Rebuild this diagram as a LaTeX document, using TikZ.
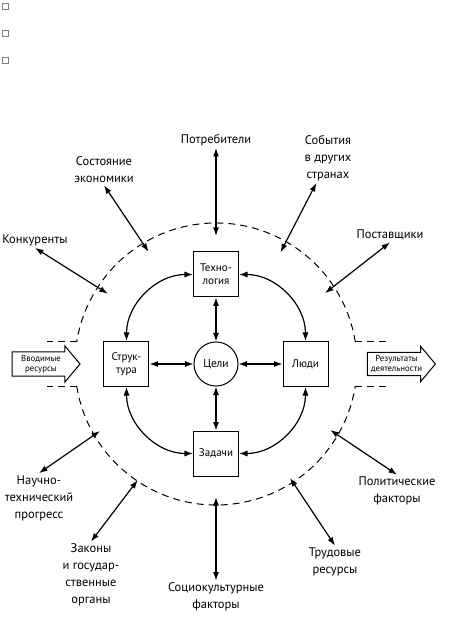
\documentclass[tikz,border=0pt]{standalone}
\usepackage{fontspec}
\setmainfont{PT Sans}
\usetikzlibrary{arrows.meta, positioning, shapes.arrows}
\tikzset{
  blockB/.style={rectangle, draw=black, line width=1pt, fill=white,
                 minimum size=45pt, inner sep=1pt, align=center,
                 font=\fontsize{11}{13}\selectfont},
  goalC/.style={circle, draw=black, line width=1pt, fill=white,
                minimum size=44pt, inner sep=0pt,
                font=\fontsize{11.5}{13}\selectfont},
  factorL/.style={align=center, inner sep=2pt,
                  font=\fontsize{12.5}{17}\selectfont},
  flowA/.style={single arrow, draw=black, line width=1pt,
                minimum height=68pt, single arrow head extend=6pt,
                single arrow tip angle=100, inner xsep=2pt, inner ysep=2.5pt,
                align=center, font=\fontsize{8.8}{10}\selectfont},
  link/.style={{Latex[length=8.5pt,width=6pt]}-{Latex[length=8.5pt,width=6pt]},
               line width=1.2pt},
  envB/.style={dash pattern=on 7pt off 5pt, line width=1pt},
  tickbox/.style={draw=gray, minimum size=6pt, inner sep=0pt, line width=0.6pt},
}
\begin{document}
\begin{tikzpicture}[x=1pt, y=1pt]
  \useasboundingbox (-216,-270) rectangle (238,364);
  % small boxes in the corner
  \foreach \i/\y in {1/357.5,2/330.5,3/303.5}{
    \node[tickbox] (tick\i) at (-211,\y) {};
  }
  % environment border
  \draw[envB] (9:141) arc[start angle=9, end angle=171, radius=141];
  \draw[envB] (189:141) arc[start angle=189, end angle=351, radius=141];
  \draw[envB] (171:141) -- ++(-30,0);
  \draw[envB] (189:141) -- ++(-30,0);
  \draw[envB] (9:141) -- ++(33,0);
  \draw[envB] (-9:141) -- ++(33,0);
  % inner variables
  \node[goalC] (goals) at (0,0) {Цели};
  \node[blockB, above=44pt of goals] (tech) {Техно-\\логия};
  \node[blockB, below=44pt of goals] (tasks) {Задачи};
  \node[blockB, left=44pt of goals] (struct) {Струк-\\тура};
  \node[blockB, right=44pt of goals] (people) {Люди};
  \foreach \b in {tech,struct,people,tasks}{
    \draw[link] (goals) -- (\b);
  }
  \draw[link] (tech.west) to[out=180, in=90] (struct.north);
  \draw[link] (tech.east) to[out=0, in=90] (people.north);
  \draw[link] (struct.south) to[out=-90, in=180] (tasks.west);
  \draw[link] (people.south) to[out=-90, in=0] (tasks.east);
  % input and output
  \node[flowA] (inputR) at (-175,0) {Вводимые\\ресурсы};
  \node[flowA] (outputR) at (180.5,0) {Результаты\\деятельности};
  % outer factors
  \node[factorL] (cons) at (0,224) {Потребители};
  \node[factorL] (econ) at (-112,194) {Состояние\\экономики};
  \node[factorL] (comp) at (-181,124) {Конкуренты};
  \node[factorL] (events) at (112,206) {События\\в других\\странах};
  \node[factorL] (sup) at (174,129) {Поставщики};
  \node[factorL] (sci) at (-177,-134) {Научно-\\технический\\прогресс};
  \node[factorL] (laws) at (-125,-211) {Законы\\и государ-\\ственные\\органы};
  \node[factorL] (socio) at (0,-233) {Социокультурные\\факторы};
  \node[factorL] (labour) at (119,-198) {Трудовые\\ресурсы};
  \node[factorL] (polit) at (181,-127) {Политические\\факторы};
  \foreach \n/\a/\ang/\r in {cons/south/90/128, econ/south/121/131,
      comp/south/147/129, events/-115/60/129, sup/south/33/130,
      sci/north/210/134, laws/north/236/140, socio/north/270/133,
      labour/north/303/136, polit/north/330/132}{
    \coordinate (\n-in) at (\ang:\r);
    \draw[link] (\n.\a) -- (\n-in);
  }
\end{tikzpicture}
\end{document}
